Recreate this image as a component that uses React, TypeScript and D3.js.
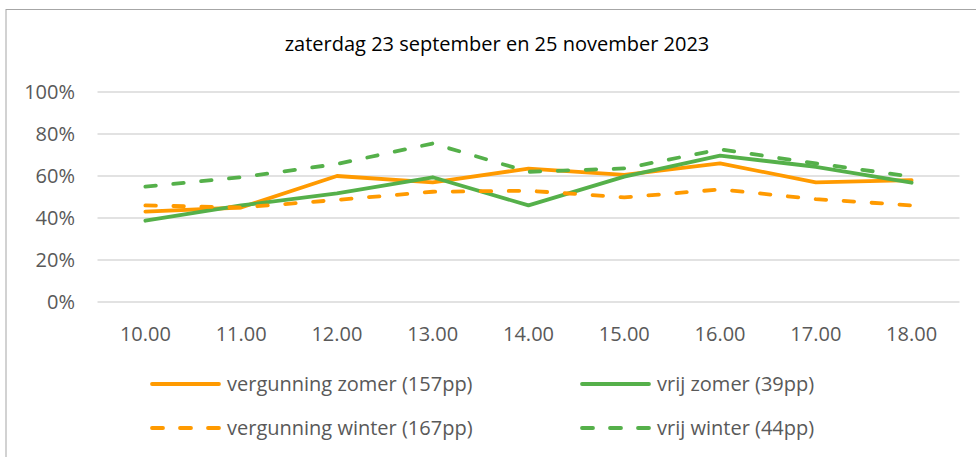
import React from 'react';
import * as d3 from 'd3';

const width = 976;
const height = 457;

const hours = ['10.00', '11.00', '12.00', '13.00', '14.00', '15.00', '16.00', '17.00', '18.00'];
const yTicks = [0, 0.2, 0.4, 0.6, 0.8, 1];

const vergunningZomer = [0.43, 0.45, 0.6, 0.57, 0.635, 0.605, 0.66, 0.57, 0.58];
const vrijZomer = [0.387, 0.46, 0.517, 0.594, 0.46, 0.597, 0.697, 0.644, 0.568];
const vergunningWinter = [0.46, 0.45, 0.486, 0.525, 0.53, 0.498, 0.536, 0.49, 0.46];
const vrijWinter = [0.549, 0.594, 0.657, 0.755, 0.62, 0.636, 0.727, 0.66, 0.597];

const orange = '#ff9a00';
const green = '#55b04a';

const series = [
  { name: 'vergunning zomer (157pp)', values: vergunningZomer, color: orange, dashed: false },
  { name: 'vrij zomer (39pp)', values: vrijZomer, color: green, dashed: false },
  { name: 'vergunning winter (167pp)', values: vergunningWinter, color: orange, dashed: true },
  { name: 'vrij winter (44pp)', values: vrijWinter, color: green, dashed: true },
];

const font = '"Open Sans", "Noto Sans", sans-serif';
const fs = 20;
const lw = 3.8;

const x = d3.scaleBand().domain(hours).range([97.5, 959.5]);
const y = d3.scaleLinear().domain([0, 1]).range([302, 92]);

const line = d3
  .line<number>()
  .x((_, i) => x(hours[i])! + x.bandwidth() / 2)
  .y(d => y(d));

const App = () => {
  return (
    <svg
      width={width}
      height={height}
      style={{ position: 'absolute', left: 0, top: 0, background: '#fff' }}
    >
      <rect x={6} y={9.5} width={1000} height={500} fill="#fff" stroke="#a6a6a6" strokeWidth={1} />
      <text x={497} y={51} textAnchor="middle" fontFamily={font} fontSize={fs} fill="#000">
        zaterdag 23 september en 25 november 2023
      </text>
      {yTicks.map(t => (
        <g key={t}>
          <line x1={97.5} x2={959.5} y1={y(t)} y2={y(t)} stroke="#d9d9d9" strokeWidth={1.3} />
          <text
            x={75}
            y={y(t)}
            dy="0.35em"
            textAnchor="end"
            fontFamily={font}
            fontSize={fs}
            fill="#595959"
          >
            {d3.format('.0%')(t)}
          </text>
        </g>
      ))}
      {hours.map(h => (
        <text
          key={h}
          x={x(h)! + x.bandwidth() / 2}
          y={341}
          textAnchor="middle"
          fontFamily={font}
          fontSize={fs}
          fill="#595959"
        >
          {h}
        </text>
      ))}
      {series.map(s => (
        <path
          key={s.name}
          d={line(s.values)!}
          fill="none"
          stroke={s.color}
          strokeWidth={lw}
          strokeLinecap="round"
          strokeLinejoin="round"
          strokeDasharray={s.dashed ? '10.5 17.5' : undefined}
        />
      ))}
      {series.map((s, i) => {
        const lx = i % 2 === 0 ? 152 : 582;
        const ly = i < 2 ? 384 : 428;
        return (
          <g key={s.name}>
            <line
              x1={lx}
              x2={lx + 67}
              y1={ly}
              y2={ly}
              stroke={s.color}
              strokeWidth={lw}
              strokeLinecap="round"
              strokeDasharray={s.dashed ? '11 17' : undefined}
            />
            <text
              x={lx + 75}
              y={ly}
              dy="0.35em"
              fontFamily={font}
              fontSize={fs}
              fill="#595959"
            >
              {s.name}
            </text>
          </g>
        );
      })}
    </svg>
  );
};

export default App;
